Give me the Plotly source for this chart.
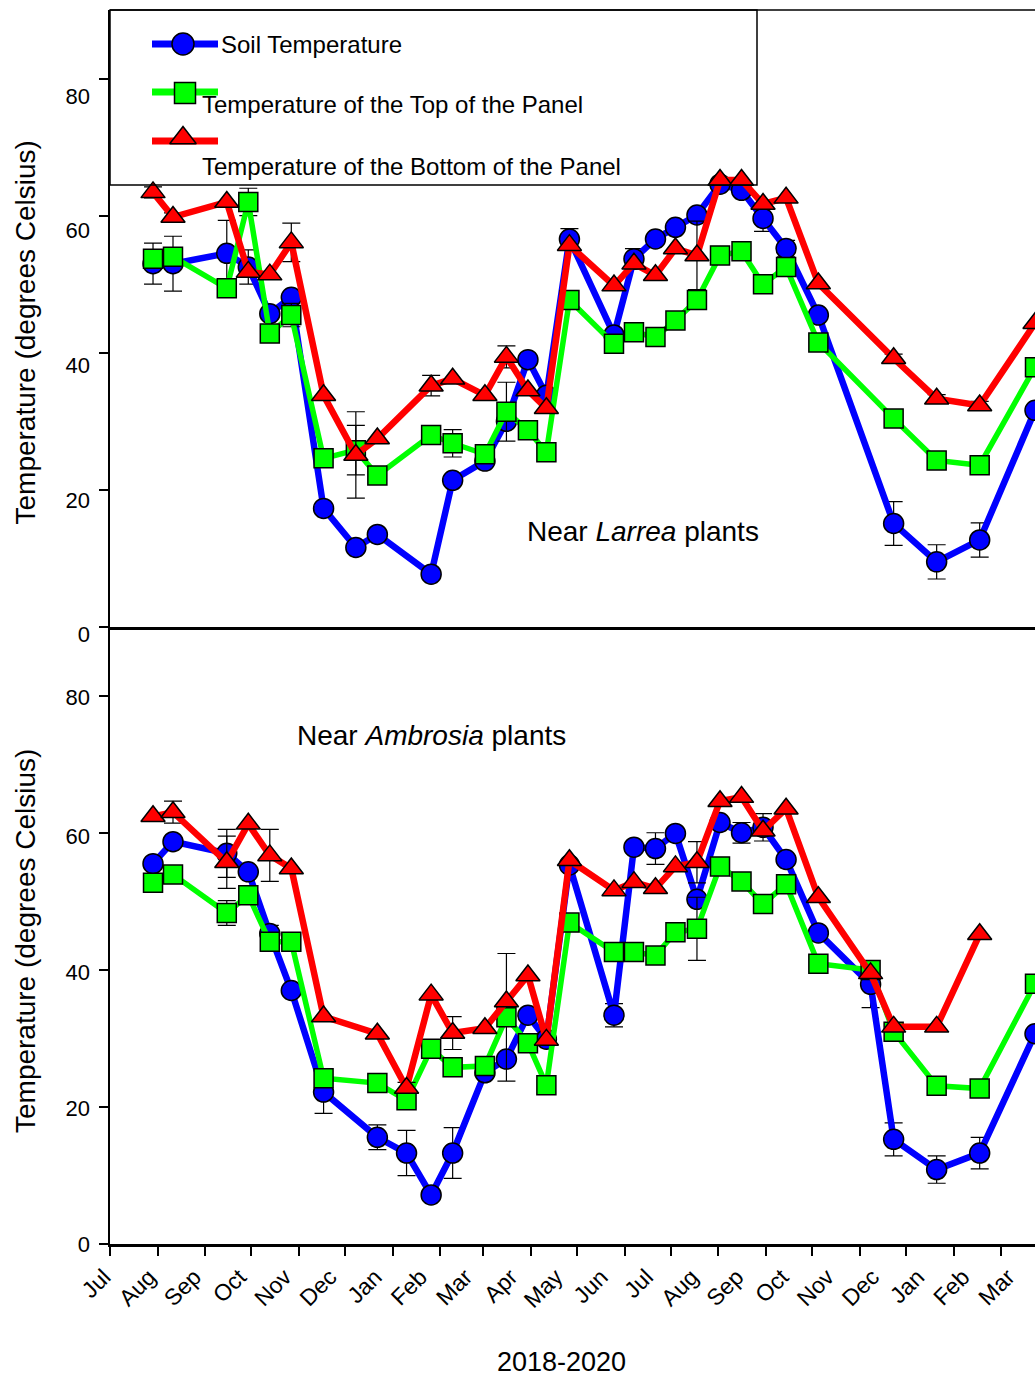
import plotly.graph_objects as go

# ---------------------------------------------------------------- data
months = ["Jul", "Aug", "Sep", "Oct", "Nov", "Dec", "Jan", "Feb", "Mar", "Apr", "May",
          "Jun", "Jul", "Aug", "Sep", "Oct", "Nov", "Dec", "Jan", "Feb", "Mar"]
y_tick_text = ["80", "60", "40", "20", "0"]

larrea_dates = ["2018-07-29", "2018-08-11", "2018-09-15", "2018-09-29", "2018-10-13",
                "2018-10-27", "2018-11-17", "2018-12-08", "2018-12-22", "2019-01-26",
                "2019-02-09", "2019-03-02", "2019-03-16", "2019-03-30", "2019-04-11",
                "2019-04-26", "2019-05-25", "2019-06-07", "2019-06-21", "2019-07-04",
                "2019-07-18", "2019-08-02", "2019-08-16", "2019-08-30", "2019-09-14",
                "2019-10-05", "2019-11-23", "2019-12-21", "2020-01-18", "2020-02-23"]
larrea_soil = [53.0, 53.0, 54.5, 52.5, 45.7, 48.1, 17.3, 11.6, 13.5, 7.7,
               21.4, 24.2, 30.0, 39.0, 33.8, 56.6, 42.6, 53.7, 56.6, 58.3,
               60.1, 64.6, 63.7, 59.6, 55.2, 45.5, 15.1, 9.5, 12.7, 31.6]
larrea_top = [53.7, 54.0, 49.4, 62.0, 42.8, 45.5, 24.6, 25.8, 22.1, 28.0,
              26.8, 25.2, 31.4, 28.7, 25.5, 47.7, 41.3, 43.0, 42.3, 44.7,
              47.7, 54.2, 54.8, 50.0, 52.5, 41.5, 30.4, 24.3, 23.6, 37.9]
larrea_bottom = [63.4, 59.8, 62.0, 51.8, 51.4, 56.1, 33.8, 25.1, 27.5, 35.2,
                 36.2, 33.8, 39.4, 34.5, 31.9, 55.7, 49.8, 53.0, 51.3, 55.2,
                 54.2, 65.2, 65.2, 61.7, 62.6, 50.1, 39.2, 33.3, 32.3, 44.3]
larrea_soil_err = [3.0, 4.0, 4.8, 2.5, None, None, None, None, None, None,
                   None, None, None, None, None, 1.5, None, 1.5, None, None,
                   None, None, None, 1.9, 1.2, None, 3.2, 2.5, 2.5, None]
larrea_top_err = [None, None, None, 2.0, None, 1.7, None, 3.6, None, None,
                  2.0, None, 4.3, None, None, None, None, None, None, None,
                  None, None, None, None, None, None, None, None, None, None]
larrea_bottom_err = [0.8, 0.6, None, None, None, 2.8, None, 6.3, None, 1.5,
                     None, None, 1.6, None, None, None, None, None, None, None,
                     5.0, None, None, None, None, None, 0.6, 0.6, 0.6, None]

ambrosia_dates = ["2018-07-29", "2018-08-11", "2018-09-15", "2018-09-29", "2018-10-13",
                  "2018-10-27", "2018-11-17", "2018-12-22", "2019-01-10", "2019-01-26",
                  "2019-02-09", "2019-03-02", "2019-03-16", "2019-03-30", "2019-04-11",
                  "2019-04-26", "2019-05-25", "2019-06-07", "2019-06-21", "2019-07-04",
                  "2019-07-18", "2019-08-02", "2019-08-16", "2019-08-30", "2019-09-14",
                  "2019-10-05", "2019-11-08", "2019-11-23", "2019-12-21", "2020-01-18",
                  "2020-02-23"]
ambrosia_soil = [55.5, 58.7, 57.0, 54.3, 45.3, 37.0, 22.2, 15.6, 13.3, 7.2,
                 13.3, 25.0, 27.0, 33.4, 29.9, 55.3, 33.4, 57.9, 57.7, 59.9,
                 50.3, 61.5, 60.0, 60.8, 56.1, 45.4, 37.9, 15.3, 10.9, 13.3,
                 30.7]
ambrosia_top = [52.7, 53.9, 48.3, 50.9, 44.1, 44.1, 24.2, 23.5, 21.0, 28.5,
                25.8, 26.0, 33.1, 29.3, 23.2, 46.9, 42.6, 42.6, 42.1, 45.5,
                46.0, 55.1, 52.9, 49.6, 52.5, 40.9, 40.0, 31.0, 23.1, 22.7,
                38.0]
ambrosia_bottom = [62.4, 63.0, 55.7, 61.3, 56.7, 54.8, 33.2, 30.7, 22.8, 36.4,
                   30.8, 31.5, 35.4, 39.2, 29.8, 56.0, 51.6, 52.8, 51.9, 55.1,
                   55.7, 64.6, 65.2, 60.3, 63.5, 50.6, 39.5, 31.7, 31.7, 45.2,
                   None]
ambrosia_soil_err = [None, None, 3.5, None, 1.2, None, 3.1, 1.8, 3.3, None,
                     3.7, None, None, None, None, None, 1.7, None, 2.3, None,
                     None, None, 1.5, 2.0, None, None, 3.4, 2.4, 2.0, 2.3,
                     None]
ambrosia_top_err = [None, None, 1.8, None, None, None, None, None, None, None,
                    None, None, 9.3, None, None, None, None, None, None, None,
                    4.6, None, None, None, None, None, None, None, None, None,
                    None]
ambrosia_bottom_err = [None, 1.6, 3.8, None, 3.8, None, None, None, 0.8, None,
                       2.4, None, None, None, None, None, None, None, None, None,
                       3.0, None, None, None, None, None, None, None, None, None,
                       None]

# ---------------------------------------------------------------- layout constants
W, H = 1035, 1379
PLOT_L, PLOT_R = 110, 1035
TOP_T, MID_Y, BOT_B = 10, 627, 1244.3
FONT = "Liberation Sans, Arial, sans-serif"
BLUE, GREEN, RED = "#0000FF", "#00FF00", "#FF0000"
X_START, X_END = "2018-07-01", "2020-02-23"


def fx(px):
    return px / W


def fy(py):
    return 1 - py / H


series_style = {
    "soil": dict(symbol="circle", color=BLUE, size=20, lw=6.5),
    "top": dict(symbol="square", color=GREEN, size=19, lw=5.5),
    "bottom": dict(symbol="triangle-up", color=RED, size=21, lw=6.5),
}

fig = go.Figure()


def add_panel(dates, groups, xa, ya):
    for key, values, errs in groups:
        st = series_style[key]
        keep = [i for i, (v, e) in enumerate(zip(values, errs)) if e is not None and v is not None]
        fig.add_trace(go.Scatter(
            x=[dates[i] for i in keep], y=[values[i] for i in keep],
            mode="markers", xaxis=xa, yaxis=ya,
            marker=dict(size=1, opacity=0),
            error_y=dict(type="data", array=[errs[i] for i in keep], visible=True,
                         color="black", thickness=1.2, width=9),
            showlegend=False, hoverinfo="skip"))
        fig.add_trace(go.Scatter(
            x=dates, y=values, mode="lines+markers", xaxis=xa, yaxis=ya,
            line=dict(color=st["color"], width=st["lw"]),
            marker=dict(symbol=st["symbol"], size=st["size"], color=st["color"],
                        line=dict(color="black", width=1.5)),
            connectgaps=False, showlegend=False))


add_panel(larrea_dates, [("soil", larrea_soil, larrea_soil_err),
                         ("top", larrea_top, larrea_top_err),
                         ("bottom", larrea_bottom, larrea_bottom_err)], "x2", "y2")
add_panel(ambrosia_dates, [("soil", ambrosia_soil, ambrosia_soil_err),
                           ("top", ambrosia_top, ambrosia_top_err),
                           ("bottom", ambrosia_bottom, ambrosia_bottom_err)], "x", "y")

# legend swatches, drawn in a pixel-space overlay (x3/y3)
legend_rows = [("soil", 44, 183, 44), ("top", 92, 185, 93), ("bottom", 141, 183, 138)]
for key, line_y, mx, my in legend_rows:
    st = series_style[key]
    fig.add_trace(go.Scatter(x=[152, 218], y=[line_y, line_y], mode="lines",
                             xaxis="x3", yaxis="y3",
                             line=dict(color=st["color"], width=7),
                             showlegend=False, hoverinfo="skip"))
    fig.add_trace(go.Scatter(x=[mx], y=[my], mode="markers", xaxis="x3", yaxis="y3",
                             marker=dict(symbol=st["symbol"], size=st["size"] + 2,
                                         color=st["color"],
                                         line=dict(color="black", width=1.5)),
                             showlegend=False, hoverinfo="skip"))

month_ticks = ["2018-%02d-01" % m for m in range(7, 13)] + \
              ["2019-%02d-01" % m for m in range(1, 13)] + \
              ["2020-%02d-01" % m for m in range(1, 4)]

axis_common = dict(showgrid=False, zeroline=False, linecolor="black",
                   tickcolor="black", automargin=False)

x_label_pos = [104 + 45.2 * i for i in range(len(months))]
y_label_pos = [96, 230.5, 365.5, 500.5, 634.5, 697, 836, 972, 1108, 1244]

fig.update_layout(
    width=W, height=H, autosize=False,
    margin=dict(l=0, r=0, t=0, b=0, pad=0),
    paper_bgcolor="white", plot_bgcolor="rgba(0,0,0,0)",
    template="none",
    font=dict(family=FONT, color="black", size=22),
    showlegend=False,
    xaxis=dict(domain=[fx(PLOT_L), 1], anchor="y", type="date",
               range=[X_START, X_END], tickvals=month_ticks, showticklabels=False,
               ticks="outside", ticklen=9, tickwidth=1.5,
               showline=True, linewidth=2.5, **axis_common),
    xaxis2=dict(domain=[fx(PLOT_L), 1], anchor="y2", type="date", matches="x",
                range=[X_START, X_END], showticklabels=False, ticks="",
                showline=True, linewidth=3, **axis_common),
    yaxis=dict(domain=[fy(BOT_B), fy(MID_Y)], anchor="x", range=[0, 90],
               tickvals=[0, 20, 40, 60, 80], showticklabels=False,
               ticks="outside", ticklen=9, tickwidth=1.5,
               showline=True, linewidth=2, **axis_common),
    yaxis2=dict(domain=[fy(MID_Y), fy(TOP_T)], anchor="x2", range=[0, 90],
                tickvals=[0, 20, 40, 60, 80], showticklabels=False,
                ticks="outside", ticklen=9, tickwidth=1.5,
                showline=True, linewidth=2, **axis_common),
    xaxis3=dict(domain=[0, 1], range=[0, W], anchor="free", position=fy(1258),
                tickvals=x_label_pos, ticktext=months, tickangle=-45,
                ticks="", showline=False, tickfont=dict(size=23, family=FONT),
                **axis_common),
    yaxis3=dict(domain=[0, 1], range=[H, 0], anchor="free", position=fx(90),
                tickvals=y_label_pos, ticktext=y_tick_text * 2,
                ticks="", showline=False, tickfont=dict(size=22, family=FONT),
                **axis_common),
)

# legend frame and the top border of the upper panel
fig.add_shape(type="rect", xref="x3", yref="y3", x0=110, x1=757, y0=10, y1=185,
              line=dict(color="black", width=1.5), layer="above")
fig.add_shape(type="line", xref="x3", yref="y3", x0=110, x1=1035, y0=10, y1=10,
              line=dict(color="black", width=1.5), layer="above")

legend_text = [("Soil Temperature", 219, 44),
               ("Temperature of the Top of the Panel", 200, 104),
               ("Temperature of the Bottom of the Panel", 200, 166)]
for txt, tx, ty in legend_text:
    fig.add_annotation(text=txt, x=tx, y=ty, xref="x3", yref="y3", xanchor="left",
                       yanchor="middle", showarrow=False, font=dict(size=24, family=FONT))

fig.add_annotation(text="Near <i>Larrea</i> plants", x=525, y=531, xref="x3", yref="y3",
                   xanchor="left", yanchor="middle", showarrow=False,
                   font=dict(size=28, family=FONT))
fig.add_annotation(text="Near <i>Ambrosia</i> plants", x=295, y=735, xref="x3", yref="y3",
                   xanchor="left", yanchor="middle", showarrow=False,
                   font=dict(size=28, family=FONT))
fig.add_annotation(text="2018-2020", x=561, y=1362, xref="x3", yref="y3",
                   xanchor="center", yanchor="middle", showarrow=False,
                   font=dict(size=27, family=FONT))
for cy in (332.5, 941):
    fig.add_annotation(text="Temperature (degrees Celsius)", x=25, y=cy,
                       xref="x3", yref="y3", textangle=-90,
                       xanchor="center", yanchor="middle", showarrow=False,
                       font=dict(size=28, family=FONT))

fig.write_html("out.html")
